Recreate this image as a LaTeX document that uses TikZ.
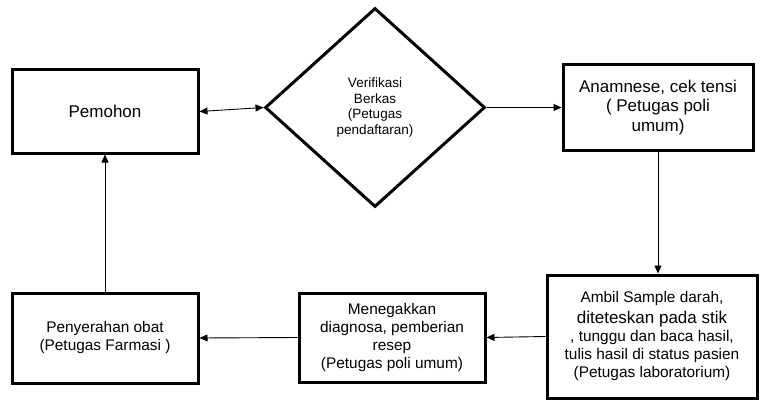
\documentclass[tikz,border=0pt]{standalone}
\usepackage{fontspec}
\setmainfont{Liberation Sans}
\usetikzlibrary{shapes.geometric,arrows.meta}
\begin{document}
\begin{tikzpicture}[x=1pt,y=-1pt,
  box/.style={draw,line width=3pt,rectangle,align=center,inner sep=2pt,text=black},
  bigtxt/.style={font=\fontsize{17}{19.5}\selectfont},
  smalltxt/.style={font=\fontsize{15.4}{18}\selectfont},
  decision/.style={draw,line width=3pt,diamond,aspect=1.1,minimum width=220pt,minimum height=199pt,inner sep=0pt,align=center,font=\fontsize{13.5}{15.5}\selectfont,text=black},
  arr/.style={line width=0.9pt,-{Triangle[length=8pt,width=7pt]}},
  darr/.style={line width=0.9pt,{Triangle[length=8pt,width=7pt]}-{Triangle[length=8pt,width=7pt]}}]
\path[use as bounding box,fill=white] (0,0) rectangle (760,401);
\node[box,bigtxt,minimum width=186pt,minimum height=83pt] (pem) at (105,111.5) {Pemohon};
\node[decision] (dia) at (375,107.5) {Verifikasi\\Berkas\\(Petugas\\pendaftaran)};
\node[box,bigtxt,minimum width=190pt,minimum height=85pt] (ana) at (658,107.5) {Anamnese, cek tensi\\( Petugas poli\\umum)};
\node[box,smalltxt,minimum width=210pt,minimum height=123pt] (amb) at (652,336.5) {Ambil Sample darah,\\[3pt]{\fontsize{17}{19}\selectfont diteteskan pada stik}\\, tunggu dan baca hasil,\\tulis hasil di status pasien\\(Petugas laboratorium)};
\node[box,smalltxt,minimum width=186pt,minimum height=89pt] (men) at (392,337.5) {Menegakkan\\diagnosa, pemberian\\resep\\(Petugas poli umum)};
\node[box,smalltxt,minimum width=186pt,minimum height=90pt] (pen) at (105,338) {Penyerahan obat\\(Petugas Farmasi )};
\draw[darr] (pem.east) -- (dia.west);
\draw[arr] (dia.east) -- (ana.west);
\draw[arr] (ana.south) -- (ana.south |- amb.north);
\draw[arr] (amb.west) -- (men.east);
\draw[arr] (men.west) -- (pen.east);
\draw[arr] (pen.north) -- (pem.south);
\end{tikzpicture}
\end{document}
